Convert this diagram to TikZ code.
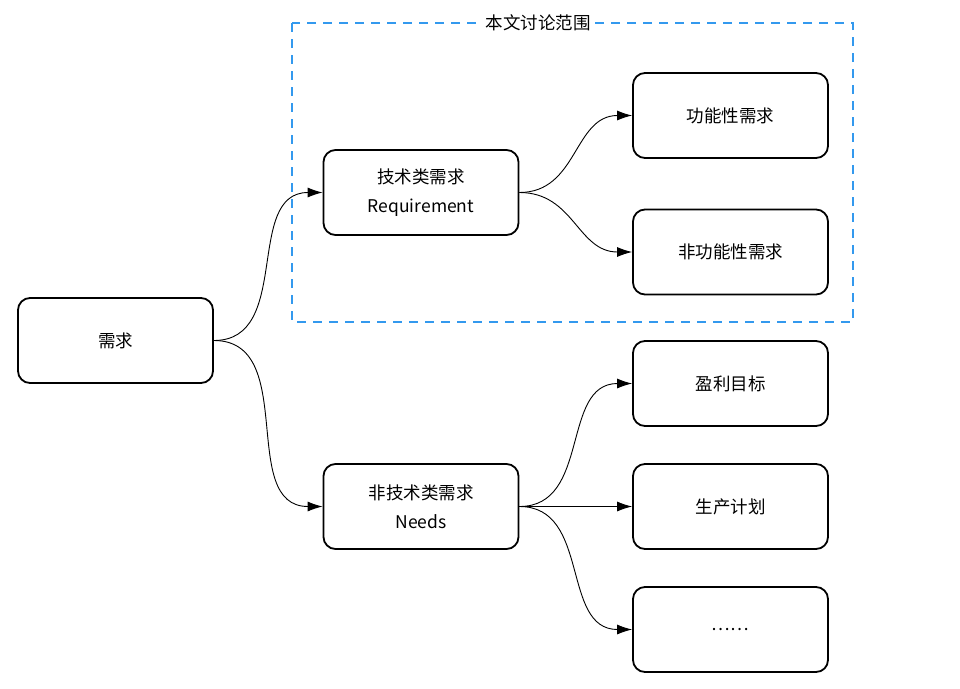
\documentclass[tikz,border=0pt]{standalone}
\usepackage{fontspec}
\setmainfont{Noto Sans CJK SC}
\usetikzlibrary{arrows.meta}

\begin{document}
\begin{tikzpicture}[x=1pt,y=-1pt,
    box/.style={draw,line width=1.8pt,rounded corners=12pt,minimum width=195pt,minimum height=85pt,
      align=center,font=\fontsize{17.5}{29}\selectfont},
    link/.style={line width=0.9pt,-{Latex[length=15pt,width=10pt]},out=0,in=180,looseness=1.1}]
          \useasboundingbox (0,0) rectangle (960,688);
          \draw[color={rgb,255:red,51;green,153;blue,238},line width=1.8pt,dash pattern=on 9pt off 7pt] (292,23) rectangle (853,322);
          \node[fill=white,inner sep=3pt,font=\fontsize{17.5}{20}\selectfont] (scope) at (538,23) {本文讨论范围};
          \node[box] (need) at (115.5,340.5) {需求};
          \node[box] (tech) at (421,192.5) {技术类需求\\Requirement};
          \node[box] (nontech) at (421,506.5) {非技术类需求\\Needs};
          \node[box] (func) at (730.5,115.5) {功能性需求};
          \node[box] (nonfunc) at (730.5,252) {非功能性需求};
          \node[box] (profit) at (730.5,383.5) {盈利目标};
          \node[box] (plan) at (730.5,506.5) {生产计划};
          \node[box] (more) at (730.5,629.5) {……};
          \draw[link] (need.east) to (tech.west);
          \draw[link] (need.east) to (nontech.west);
          \draw[link] (tech.east) to (func.west);
          \draw[link] (tech.east) to (nonfunc.west);
          \draw[link] (nontech.east) to (profit.west);
          \draw[link] (nontech.east) to (plan.west);
          \draw[link] (nontech.east) to (more.west);
        \end{tikzpicture}
\end{document}
